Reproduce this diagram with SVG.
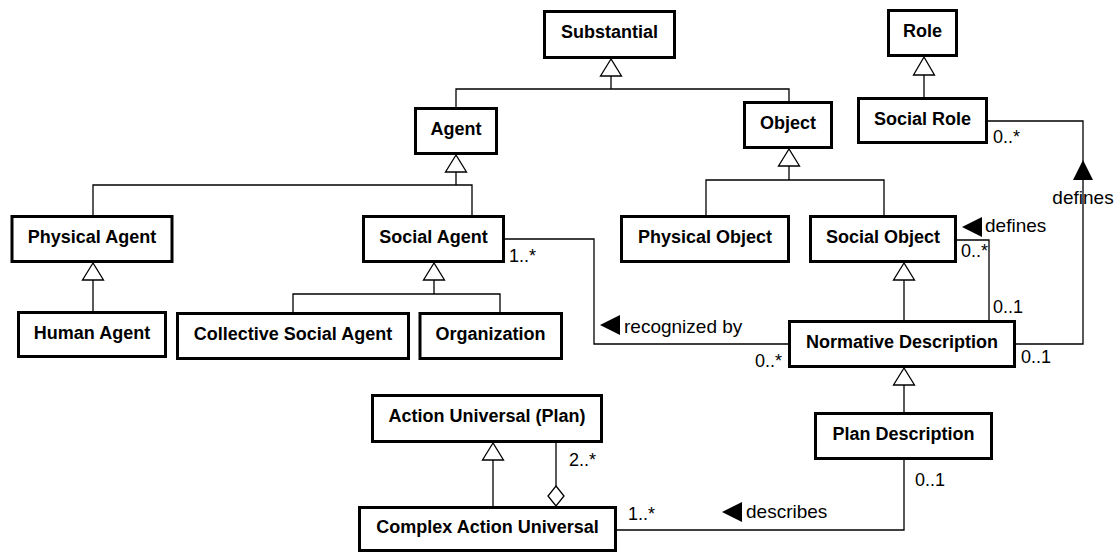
<svg xmlns="http://www.w3.org/2000/svg" width="1117" height="553" viewBox="0 0 1117 553">
  <style>
    .box rect { fill: #fff; stroke: #000; stroke-width: 3; }
    .box text { font-family: "Liberation Sans", Arial, sans-serif; font-weight: bold; font-size: 18px; text-anchor: middle; fill: #000; }
    .conn path { fill: none; stroke: #000; stroke-width: 1.3; }
    .gen { fill: #fff; stroke: #000; stroke-width: 1.3; }
    .agg { fill: #fff; stroke: #000; stroke-width: 1.3; }
    .dir { fill: #000; stroke: none; }
    .lbl { font-family: "Liberation Sans", Arial, sans-serif; font-size: 19px; fill: #000; }
    .mult { font-family: "Liberation Sans", Arial, sans-serif; font-size: 18px; fill: #000; }
  </style>
  <rect width="1117" height="553" fill="#fff"/>

  <!-- connectors -->
  <g id="connectors" class="conn">
    <!-- generalizations -->
    <path d="M611,76 V89 M456,107 V89 H789 V101"/>
    <path d="M924,75 V97"/>
    <path d="M456,172 V185 M93,215 V185 H472 V215"/>
    <path d="M789,166 V180 M706,215 V180 H884 V215"/>
    <path d="M93,280 V311"/>
    <path d="M434,280 V294 M293,312 V294 H500 V312"/>
    <path d="M904,280 V320"/>
    <path d="M904,385 V412"/>
    <path d="M493,460 V506"/>
    <!-- aggregation -->
    <path d="M556,443 V486"/>
    <!-- associations -->
    <path d="M505,239 H594 V344 H788"/>
    <path d="M988,121 H1083 V344 H1016"/>
    <path d="M957,240 H989 V320"/>
    <path d="M904,460 V530 H617"/>

    <!-- generalization heads -->
    <polygon class="gen" points="611,59 600.5,76 621.5,76"/>
    <polygon class="gen" points="924,57 913.5,75 934.5,75"/>
    <polygon class="gen" points="456,155 445.5,172 466.5,172"/>
    <polygon class="gen" points="789,149 778.5,166 799.5,166"/>
    <polygon class="gen" points="93,263 82.5,280 103.5,280"/>
    <polygon class="gen" points="434,263 423.5,280 444.5,280"/>
    <polygon class="gen" points="904,263 893.5,280 914.5,280"/>
    <polygon class="gen" points="904,368 893.5,385 914.5,385"/>
    <polygon class="gen" points="493,443 482.5,460 503.5,460"/>
    <!-- aggregation diamond -->
    <polygon class="agg" points="556,486 564,496 556,506 548,496"/>

    <!-- reading-direction triangles -->
    <polygon class="dir" points="1083,160 1073,180 1093,180"/>
    <polygon class="dir" points="962,227 982,217 982,237"/>
    <polygon class="dir" points="600,325 620,315 620,335"/>
    <polygon class="dir" points="722,512 742,502 742,522"/>

    <!-- association names -->
    <text class="lbl" x="1083" y="204" text-anchor="middle">defines</text>
    <text class="lbl" x="985" y="232">defines</text>
    <text class="lbl" x="624" y="333">recognized by</text>
    <text class="lbl" x="746" y="518">describes</text>

    <!-- multiplicities -->
    <text class="mult" x="509" y="262">1..*</text>
    <text class="mult" x="755" y="367">0..*</text>
    <text class="mult" x="993" y="143">0..*</text>
    <text class="mult" x="961" y="257">0..*</text>
    <text class="mult" x="993" y="313">0..1</text>
    <text class="mult" x="1021" y="363">0..1</text>
    <text class="mult" x="915" y="486">0..1</text>
    <text class="mult" x="628" y="520">1..*</text>
    <text class="mult" x="569" y="466">2..*</text>
  </g>

  <!-- classes -->
  <g id="substantial" class="box"><rect x="544.5" y="11.5" width="130" height="46"/><text x="609.5" y="38">Substantial</text></g>
  <g id="role" class="box"><rect x="888.5" y="10.5" width="68" height="45"/><text x="922.5" y="37">Role</text></g>
  <g id="agent" class="box"><rect x="415.5" y="108.5" width="81" height="45"/><text x="456" y="135">Agent</text></g>
  <g id="object" class="box"><rect x="744.5" y="102.5" width="87" height="45"/><text x="788" y="129">Object</text></g>
  <g id="social-role" class="box"><rect x="858.5" y="98.5" width="128" height="44"/><text x="922.5" y="125">Social Role</text></g>
  <g id="physical-agent" class="box"><rect x="12" y="216.5" width="160" height="45"/><text x="92" y="243">Physical Agent</text></g>
  <g id="social-agent" class="box"><rect x="363.5" y="216.5" width="140" height="45"/><text x="433.5" y="243">Social Agent</text></g>
  <g id="physical-object" class="box"><rect x="621.5" y="216.5" width="167" height="45"/><text x="705" y="243">Physical Object</text></g>
  <g id="social-object" class="box"><rect x="810.5" y="216.5" width="145" height="45"/><text x="883" y="243">Social Object</text></g>
  <g id="human-agent" class="box"><rect x="18.5" y="312.5" width="147" height="44"/><text x="92" y="339">Human Agent</text></g>
  <g id="collective-social-agent" class="box"><rect x="177.5" y="313.5" width="231" height="45"/><text x="293" y="340">Collective Social Agent</text></g>
  <g id="organization" class="box"><rect x="420" y="313.5" width="141.5" height="45"/><text x="490.5" y="340">Organization</text></g>
  <g id="normative-description" class="box"><rect x="789.5" y="321.5" width="225" height="45"/><text x="902" y="348">Normative Description</text></g>
  <g id="action-universal" class="box"><rect x="372.5" y="395.5" width="229" height="46"/><text x="487" y="422">Action Universal (Plan)</text></g>
  <g id="plan-description" class="box"><rect x="815.5" y="413.5" width="176" height="45"/><text x="903.5" y="440">Plan Description</text></g>
  <g id="complex-action-universal" class="box"><rect x="359.5" y="507.5" width="256" height="43"/><text x="487.5" y="533">Complex Action Universal</text></g>
</svg>
